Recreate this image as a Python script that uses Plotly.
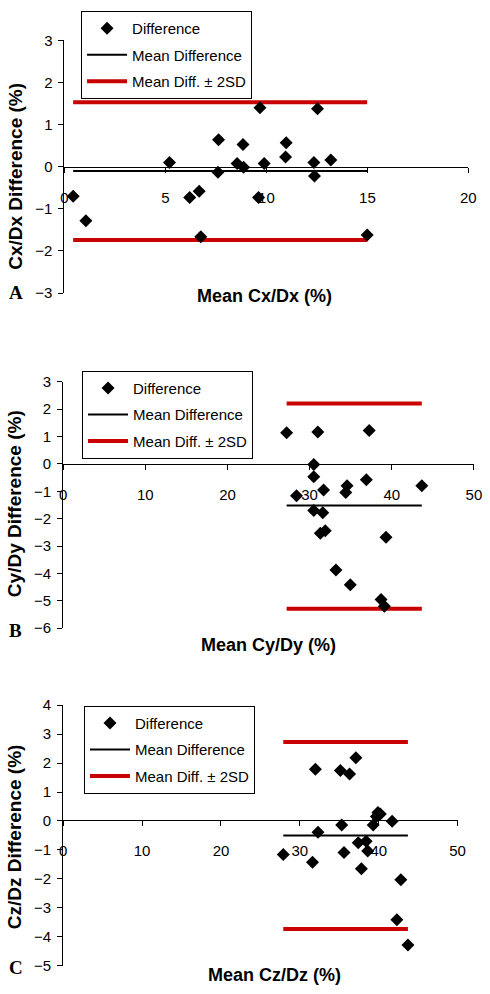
import plotly.graph_objects as go

W, H = 490, 994

# ---------------- data ----------------
# Panel A: Cx/Dx
a_mean_x = [5.2, 7.63, 8.84, 9.68, 8.55, 8.87, 9.89, 10.98, 10.95, 12.53, 12.35,
            13.19, 7.6, 12.38, 0.43, 1.06, 6.2, 6.67, 9.61, 6.75, 14.99]
a_diff = [0.10, 0.64, 0.53, 1.40, 0.08, -0.01, 0.08, 0.57, 0.23, 1.38, 0.10,
          0.16, -0.13, -0.22, -0.70, -1.28, -0.73, -0.58, -0.73, -1.66, -1.62]
a_bias = -0.10
a_upper = 1.535
a_lower = -1.74

# Panel B: Cy/Dy
b_mean_x = [27.2, 31.0, 37.25, 30.5, 30.5, 36.9, 43.66, 34.56, 34.4, 31.7, 28.4,
            30.5, 31.6, 31.3, 31.9, 33.2, 34.95, 39.3, 38.7, 39.1]
b_diff = [1.14, 1.17, 1.22, -0.02, -0.47, -0.58, -0.80, -0.80, -1.04, -0.95, -1.16,
          -1.70, -1.78, -2.53, -2.44, -3.87, -4.41, -2.68, -4.95, -5.20]
b_bias = -1.52
b_upper = 2.21
b_lower = -5.29

# Panel C: Cz/Dz
c_mean_x = [31.97, 35.14, 36.3, 37.1, 39.9, 40.2, 39.7, 41.7, 35.3, 39.3, 32.3,
            27.9, 31.6, 35.6, 37.4, 38.4, 38.6, 37.8, 42.8, 42.3, 43.7]
c_diff = [1.79, 1.74, 1.62, 2.18, 0.29, 0.24, 0.15, -0.01, -0.14, -0.14, -0.39,
          -1.16, -1.43, -1.09, -0.75, -0.70, -1.04, -1.65, -2.03, -3.41, -4.29]
c_bias = -0.50
c_upper = 2.73
c_lower = -3.73

panels = [
    dict(x=a_mean_x, y=a_diff, bias=a_bias, up=a_upper, lo=a_lower,
         xrange=[0, 20], xdtick=5, yrange=[-3, 3], ydtick=1,
         xpx=(62, 476), ypx=(32, 289), zero_py=161,
         ytitle="Cx/Dx Difference (%)", ytitle_y=170,
         xtitle="Mean Cx/Dx (%)", xtitle_pos=(267, 292),
         letter="A", letter_y=288, legend_pos=(79, 2)),
    dict(x=b_mean_x, y=b_diff, bias=b_bias, up=b_upper, lo=b_lower,
         xrange=[0, 50], xdtick=10, yrange=[-6, 3], ydtick=1,
         xpx=(60.7, 481.7), ypx=(379.3, 630), zero_py=462.7,
         ytitle="Cy/Dy Difference (%)", ytitle_y=503,
         xtitle="Mean Cy/Dy (%)", xtitle_pos=(271, 647),
         letter="B", letter_y=632, legend_pos=(80, 368)),
    dict(x=c_mean_x, y=c_diff, bias=c_bias, up=c_upper, lo=c_lower,
         xrange=[0, 50], xdtick=10, yrange=[-5, 4], ydtick=1,
         xpx=(60.7, 465), ypx=(708.3, 973.3), zero_py=825.3,
         ytitle="Cz/Dz Difference (%)", ytitle_y=842,
         xtitle="Mean Cz/Dz (%)", xtitle_pos=(277, 983),
         letter="C", letter_y=975, legend_pos=(82, 709)),
]

RED = "#C80000"
FONT = "Liberation Sans, Arial, sans-serif"

fig = go.Figure()
layout = dict(
    width=W, height=H,
    margin=dict(l=0, r=0, t=0, b=0),
    paper_bgcolor="white", plot_bgcolor="white",
    showlegend=True,
    font=dict(family=FONT, size=15, color="black"),
    annotations=[],
)

for i, p in enumerate(panels):
    n = i + 1
    xa = "x" if n == 1 else f"x{n}"
    ya = "y" if n == 1 else f"y{n}"
    lg = "legend" if n == 1 else f"legend{n}"
    xmin, xmax = min(p["x"]), max(p["x"])

    fig.add_trace(go.Scatter(
        x=[xmin, xmax], y=[p["up"], p["up"]], mode="lines",
        line=dict(color=RED, width=4), name="Mean Diff. ± 2SD",
        xaxis=xa, yaxis=ya, legend=lg, legendgroup=f"sd{n}", legendrank=3))
    fig.add_trace(go.Scatter(
        x=[xmin, xmax], y=[p["lo"], p["lo"]], mode="lines",
        line=dict(color=RED, width=4), name="Mean Diff. ± 2SD",
        xaxis=xa, yaxis=ya, legend=lg, legendgroup=f"sd{n}", showlegend=False))
    fig.add_trace(go.Scatter(
        x=[xmin, xmax], y=[p["bias"], p["bias"]], mode="lines",
        line=dict(color="black", width=2), name="Mean Difference",
        xaxis=xa, yaxis=ya, legend=lg, legendgroup=f"m{n}", legendrank=2))
    fig.add_trace(go.Scatter(
        x=p["x"], y=p["y"], mode="markers",
        marker=dict(symbol="diamond", size=10, color="black"),
        name="Difference", xaxis=xa, yaxis=ya, legend=lg,
        legendgroup=f"d{n}", legendrank=1))

    x0, x1 = p["xpx"]
    y0, y1 = p["ypx"]
    layout["xaxis" if n == 1 else f"xaxis{n}"] = dict(
        domain=[x0 / W, x1 / W], range=p["xrange"], dtick=p["xdtick"],
        tick0=0, anchor="free", position=1 - p["zero_py"] / H,
        showline=True, linecolor="black", linewidth=1,
        ticks="outside", ticklen=5, tickcolor="black",
        showgrid=False, zeroline=False, ticklabelstandoff=12,
        tickfont=dict(size=15, family=FONT, color="black"))
    layout["yaxis" if n == 1 else f"yaxis{n}"] = dict(
        domain=[1 - y1 / H, 1 - y0 / H], range=p["yrange"], dtick=p["ydtick"],
        tick0=0, anchor=xa,
        showline=True, linecolor="black", linewidth=1,
        ticks="outside", ticklen=5, tickcolor="black",
        showgrid=False, zeroline=False, ticklabelstandoff=3,
        tickfont=dict(size=15, family=FONT, color="black"))

    lx, ly = p["legend_pos"]
    layout[lg] = dict(
        x=lx / W, y=1 - ly / H, xanchor="left", yanchor="top",
        xref="paper", yref="paper",
        bordercolor="black", borderwidth=1, bgcolor="white",
        font=dict(size=15, family=FONT, color="black"),
        itemwidth=40, tracegroupgap=4, traceorder="grouped",
    )

    layout["annotations"] += [
        dict(text=f"<b>{p['ytitle']}</b>", textangle=-90,
             x=11 / W, y=1 - p["ytitle_y"] / H, xref="paper", yref="paper",
             showarrow=False, xanchor="center", yanchor="middle",
             font=dict(size=19, family=FONT, color="black")),
        dict(text=f"<b>{p['xtitle']}</b>",
             x=p["xtitle_pos"][0] / W, y=1 - p["xtitle_pos"][1] / H,
             xref="paper", yref="paper", showarrow=False,
             xanchor="center", yanchor="middle",
             font=dict(size=18, family=FONT, color="black")),
        dict(text=f"<b>{p['letter']}</b>",
             x=12 / W, y=1 - p["letter_y"] / H, xref="paper", yref="paper",
             showarrow=False, xanchor="center", yanchor="middle",
             font=dict(size=19, family="Liberation Serif, Times New Roman, serif",
                       color="black")),
    ]

fig.update_layout(**layout)
fig.write_html(
    "out.html",
    config={"displayModeBar": False},
    post_script="document.body.style.margin='0px';",
)
